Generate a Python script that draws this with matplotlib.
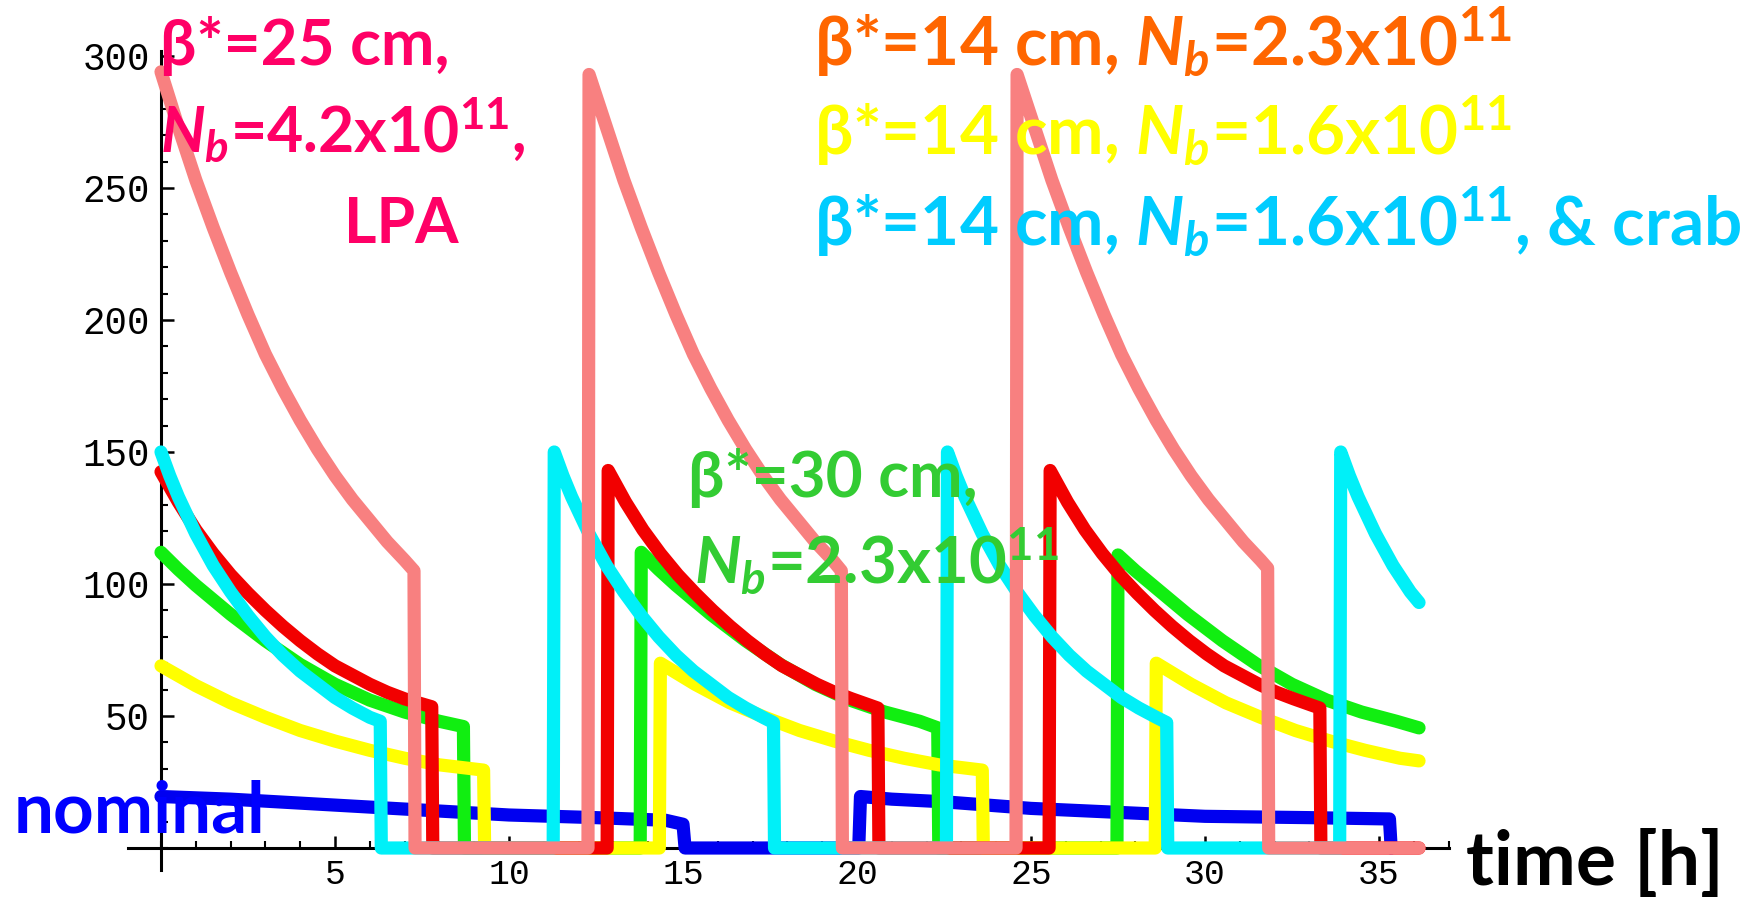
import matplotlib
matplotlib.use("Agg")
import matplotlib.pyplot as plt
from matplotlib.ticker import MultipleLocator

# luminosity (arbitrary units) vs. time [h]
pink_t = [0, 0.5, 1, 1.5, 2, 2.5, 3, 3.5, 4, 4.5, 5, 5.5, 6, 6.5, 7, 7.27,
          7.3, 12.27,
          12.3, 12.8, 13.3, 13.8, 14.3, 14.8, 15.3, 15.8, 16.3, 16.8, 17.3, 17.8,
          18.3, 18.8, 19.3, 19.55,
          19.58, 24.57,
          24.6, 25.1, 25.6, 26.1, 26.6, 27.1, 27.6, 28.1, 28.6, 29.1, 29.6, 30.1,
          30.6, 31.1, 31.6, 31.8,
          31.83, 36.15]
pink_y = [294, 273, 253, 235, 218, 202, 187, 174, 162, 151, 141, 132, 124, 116, 109, 105,
          0, 0,
          293, 273, 253, 235, 218, 202, 187, 174, 162, 151, 141, 132,
          124, 116, 109, 105,
          0, 0,
          293, 273, 253, 235, 218, 202, 187, 174, 162, 151, 141, 132,
          124, 116, 109, 106,
          0, 0]

red_t = [0, 0.5, 1, 1.5, 2, 2.5, 3, 3.5, 4, 4.5, 5, 5.5, 6, 6.5, 7, 7.78,
         7.81, 12.82,
         12.85, 13.35, 13.85, 14.35, 14.85, 15.35, 15.85, 16.35, 16.85, 17.35,
         17.85, 18.35, 18.85, 19.35, 19.85, 20.6,
         20.63, 25.52,
         25.55, 26.05, 26.55, 27.05, 27.55, 28.05, 28.55, 29.05, 29.55, 30.05,
         30.55, 31.05, 31.55, 32.05, 32.55, 33.3,
         33.33, 36.15]
red_y = [142.5, 131, 120.5, 111.5, 103.5, 96.5, 90, 84, 78.5, 73.5, 69, 65.5, 62, 59, 56.5, 53.5,
         0, 0,
         143, 131, 120.5, 111.5, 103.5, 96.5, 90, 84, 78.5, 73.5,
         69, 65.5, 62, 59, 56.5, 53,
         0, 0,
         143, 131, 120.5, 111.5, 103.5, 96.5, 90, 84, 78.5, 73.5,
         69, 65.5, 62, 59, 56.5, 53,
         0, 0]

green_t = [0, 0.5, 1, 1.5, 2, 3, 4, 5, 6, 7, 8, 8.69,
           8.72, 13.77,
           13.8, 14.3, 14.8, 15.3, 15.8, 16.8, 17.8, 18.8, 19.8, 20.8, 21.8, 22.32,
           22.35, 27.47,
           27.5, 28.0, 28.5, 29.0, 29.5, 30.5, 31.5, 32.5, 33.5, 34.5, 35.5, 36.15]
green_y = [112, 105.5, 99.5, 94, 88.5, 78.5, 69.5, 62, 56, 51.5, 48, 46,
           0, 0,
           112, 105.5, 99.5, 94, 88.5, 78.5, 69.5, 62, 56, 51.5, 48, 45.5,
           0, 0,
           111, 105, 99.5, 94, 88.5, 78.5, 69.5, 62, 56, 51.5, 48, 45.5]

yellow_t = [0, 1, 2, 3, 4, 5, 6, 7, 8, 9.27,
            9.3, 14.32,
            14.35, 15.35, 16.35, 17.35, 18.35, 19.35, 20.35, 21.35, 22.35, 23.6,
            23.63, 28.57,
            28.6, 29.6, 30.6, 31.6, 32.6, 33.6, 34.6, 35.6, 36.15]
yellow_y = [69, 61.5, 55, 49.5, 44.5, 40.5, 37, 34, 31.5, 29.5,
            0, 0,
            70, 62, 55, 49.5, 44.5, 40.5, 37, 34, 31.5, 29.5,
            0, 0,
            70, 62, 55, 49.5, 44.5, 40.5, 37, 34, 33]

cyan_t = [0, 0.25, 0.5, 1, 1.5, 2, 2.5, 3, 3.5, 4, 4.5, 5, 5.5, 6, 6.3,
          6.33, 11.27,
          11.3, 11.55, 11.8, 12.3, 12.8, 13.3, 13.8, 14.3, 14.8, 15.3, 15.8, 16.3,
          16.8, 17.3, 17.6,
          17.63, 22.57,
          22.6, 22.85, 23.1, 23.6, 24.1, 24.6, 25.1, 25.6, 26.1, 26.6, 27.1, 27.6,
          28.1, 28.6, 28.9,
          28.93, 33.87,
          33.9, 34.15, 34.4, 34.9, 35.4, 35.9, 36.15]
cyan_y = [150, 141, 133, 119, 107, 97, 88, 80, 73, 67, 62, 57, 53, 49.5, 48,
          0, 0,
          150, 141, 133, 119, 107, 97, 88, 80, 73, 67, 62, 57,
          53, 49.5, 47.5,
          0, 0,
          150, 141, 133, 119, 107, 97, 88, 80, 73, 67, 62, 57,
          53, 49.5, 47.5,
          0, 0,
          150, 141, 133, 119, 107, 97, 93]

blue_t = [0, 2, 4, 6, 8, 10, 12.5, 14.5, 15.0, 15.06,
          20.05, 20.1, 21, 22.5, 25, 27.5, 30, 33, 35.3, 35.35]
blue_y = [19.5, 18.5, 17, 15.5, 14, 12.5, 11.5, 10.5, 9, 0,
          0, 19.5, 18.5, 17.5, 15, 13.5, 12, 11.5, 11, 0]

xticks = [5, 10, 15, 20, 25, 30, 35]
yticks = [50, 100, 150, 200, 250, 300]

W, H = 1761, 897
fig = plt.figure(figsize=(W / 100, H / 100), dpi=100)
fig.patch.set_facecolor("white")

# axes placed so that x=0 -> px 161, 34.8 px/h ; y=0 -> px 848, 2.64 px/unit
x0, x1 = -0.95, 37.0
y0, y1 = -8.3, 302
left = (161 + x0 * 34.8) / W
right = (161 + x1 * 34.8) / W
bottom = (H - (848 - y0 * 2.64)) / H
top = (H - (848 - y1 * 2.64)) / H
ax = fig.add_axes([left, bottom, right - left, top - bottom])
ax.set_xlim(x0, x1)
ax.set_ylim(y0, y1)
ax.patch.set_alpha(0)

for s in ["top", "right"]:
    ax.spines[s].set_visible(False)
ax.spines["left"].set_position(("data", 0))
ax.spines["bottom"].set_position(("data", 0))
for s in ["left", "bottom"]:
    ax.spines[s].set_linewidth(2.2)

ax.set_xticks(xticks)
ax.set_yticks(yticks)
ax.xaxis.set_minor_locator(MultipleLocator(1))
ax.yaxis.set_minor_locator(MultipleLocator(10))
ax.tick_params(which="major", direction="in", length=9, width=1.8)
ax.tick_params(which="minor", direction="in", length=5, width=1.5)
ax.tick_params(axis="x", which="major", pad=7)
ax.tick_params(axis="y", which="major", pad=8)
for lab in ax.get_xticklabels():
    lab.set_fontfamily("Liberation Mono")
    lab.set_fontsize(25)
for lab in ax.get_yticklabels():
    lab.set_fontfamily("Liberation Mono")
    lab.set_fontsize(27)

lw = 9.5
kw = dict(solid_capstyle="round", solid_joinstyle="round", lw=lw, clip_on=False)
ax.plot(blue_t, blue_y, color="#0000f0", zorder=3, **kw)
ax.plot(green_t, green_y, color="#11ee11", zorder=4, **kw)
ax.plot(yellow_t, yellow_y, color="#ffff00", zorder=5, **kw)
ax.plot(red_t, red_y, color="#f20000", zorder=6, **kw)
ax.plot(cyan_t, cyan_y, color="#00f0f8", zorder=7, **kw)
ax.plot(pink_t, pink_y, color="#f88080", zorder=8, **kw)

plt.rcParams["mathtext.fontset"] = "custom"
plt.rcParams["mathtext.rm"] = "Lato:bold"
plt.rcParams["mathtext.it"] = "Lato:italic:bold"
plt.rcParams["mathtext.bf"] = "Lato:bold"

fam = ["Lato", "DejaVu Sans"]


def label(px, py, s, color, size=45):
    fig.text(px / W, 1 - py / H, s, color=color, fontsize=size, fontweight="bold",
             family=fam, ha="left", va="baseline", zorder=20)


nb = r"$\mathit{N}_{\mathit{b}}$"
pinkc = "#ff0066"
label(160, 65, "β*=25 cm,", pinkc, 46)
label(160, 153, nb + "=4.2x10$^{11}$,", pinkc)
label(344, 243, "LPA", pinkc)

label(814, 65, "β*=14 cm, " + nb + "=2.3x10$^{11}$", "#ff6600", 48.5)
label(814, 154, "β*=14 cm, " + nb + "=1.6x10$^{11}$", "#ffff00", 48.5)
label(814, 245, "β*=14 cm, " + nb + "=1.6x10$^{11}$, & crab", "#00ccff", 48.5)

label(688, 497, "β*=30 cm,", "#33cc33", 46)
label(694, 585, nb + "=2.3x10$^{11}$", "#33cc33", 47)

label(14, 832, "nominal", "#0000ff", 51)
label(1466, 885, "time [h]", "black", 54)

fig.savefig("out.png", dpi=100, facecolor="white")
